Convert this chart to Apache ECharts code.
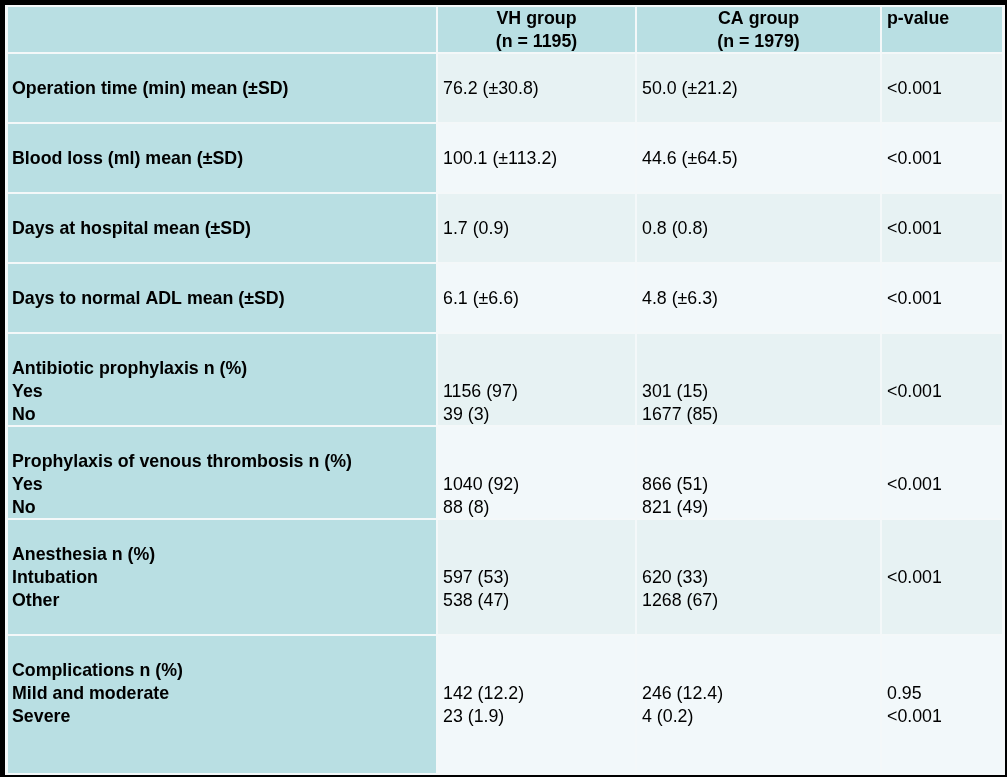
<!DOCTYPE html>
<html>
<head>
<meta charset="utf-8">
<script src="https://cdn.jsdelivr.net/npm/echarts@6/dist/echarts.min.js"></script>
<style>
html,body{margin:0;padding:0;background:#000;}
#chart{width:1007px;height:777px;}
</style>
</head>
<body>
<div id="chart"></div>
<script>
// ---- data ----
var headers = [[''], ['VH group', '(n = 1195)'], ['CA group', '(n = 1979)'], ['p-value']];
var variables = [
  ['Operation time (min) mean (±SD)'],
  ['Blood loss (ml) mean (±SD)'],
  ['Days at hospital mean (±SD)'],
  ['Days to normal ADL mean (±SD)'],
  ['Antibiotic prophylaxis n (%)', 'Yes', 'No'],
  ['Prophylaxis of venous thrombosis n (%)', 'Yes', 'No'],
  ['Anesthesia n (%)', 'Intubation', 'Other'],
  ['Complications n (%)', 'Mild and moderate', 'Severe']
];
var vhGroup = [
  ['76.2 (±30.8)'],
  ['100.1 (±113.2)'],
  ['1.7 (0.9)'],
  ['6.1 (±6.6)'],
  ['', '1156 (97)', '39 (3)'],
  ['', '1040 (92)', '88 (8)'],
  ['', '597 (53)', '538 (47)'],
  ['', '142 (12.2)', '23 (1.9)']
];
var caGroup = [
  ['50.0 (±21.2)'],
  ['44.6 (±64.5)'],
  ['0.8 (0.8)'],
  ['4.8 (±6.3)'],
  ['', '301 (15)', '1677 (85)'],
  ['', '866 (51)', '821 (49)'],
  ['', '620 (33)', '1268 (67)'],
  ['', '246 (12.4)', '4 (0.2)']
];
var pValues = [
  ['<0.001'],
  ['<0.001'],
  ['<0.001'],
  ['<0.001'],
  ['', '<0.001'],
  ['', '<0.001'],
  ['', '<0.001'],
  ['', '0.95', '<0.001']
];

// ---- layout (pixel units of the value axes) ----
var colEdges = [7, 437, 636, 881, 1003];
var rowEdges = [6, 53, 123, 193, 263, 333, 426, 519, 635, 774];
var LINE_H = 23;
var FONT = '"Liberation Sans", Arial, Helvetica, sans-serif';
var FS = 17.8;
var C_TEAL = '#b9dfe3';
var C_DARK = '#e7f2f3';
var C_LIGHT = '#f2f8fa';

var columns = [variables, vhGroup, caGroup, pValues];
var cells = [];
for (var c = 0; c < 4; c++) {
  cells.push([c, 0]);
  for (var r = 0; r < variables.length; r++) cells.push([c, r + 1]);
}

function renderItem(params, api) {
  var c = api.value(0), r = api.value(1);
  var p0 = api.coord([colEdges[c], rowEdges[r]]);
  var p1 = api.coord([colEdges[c + 1], rowEdges[r + 1]]);
  var x0 = p0[0] + 1, y0 = p0[1] + 1, x1 = p1[0] - 1, y1 = p1[1] - 1;
  var fill;
  if (r === 0 || c === 0) fill = C_TEAL;
  else fill = (r % 2 === 1) ? C_DARK : C_LIGHT;
  var children = [{
    type: 'rect',
    shape: { x: x0, y: y0, width: x1 - x0, height: y1 - y0 },
    style: { fill: fill }
  }];
  var lines, bold, align, tx, firstY;
  if (r === 0) {
    lines = headers[c];
    bold = true;
    firstY = y0 + 12;
    if (c === 1 || c === 2) { align = 'center'; tx = (x0 + x1) / 2; }
    else { align = 'left'; tx = x0 + 5; }
  } else {
    lines = columns[c][r - 1];
    bold = (c === 0);
    firstY = y0 + 35.5;
    align = 'left';
    tx = x0 + (c === 0 ? 4 : 5);
  }
  for (var i = 0; i < lines.length; i++) {
    if (!lines[i]) continue;
    children.push({
      type: 'text',
      style: {
        text: lines[i],
        x: tx,
        y: firstY + i * LINE_H,
        align: align,
        verticalAlign: 'middle',
        fill: '#000',
        font: (bold ? 'bold ' : '') + FS + 'px ' + FONT
      }
    });
  }
  return { type: 'group', children: children };
}

var chart = echarts.init(document.getElementById('chart'), null, { renderer: 'canvas' });
chart.setOption({
  backgroundColor: '#000',
  animation: false,
  grid: { left: 0, top: 0, width: 1007, height: 777 },
  xAxis: { type: 'value', min: 0, max: 1007, show: false },
  yAxis: { type: 'value', min: 0, max: 777, inverse: true, show: false },
  graphic: [{
    type: 'rect',
    shape: { x: 5, y: 5, width: 1000, height: 770 },
    style: { fill: '#f4f8f9' },
    z: -1
  }],
  series: [{
    type: 'custom',
    coordinateSystem: 'cartesian2d',
    renderItem: renderItem,
    data: cells,
    silent: true
  }]
});
</script>
</body>
</html>
